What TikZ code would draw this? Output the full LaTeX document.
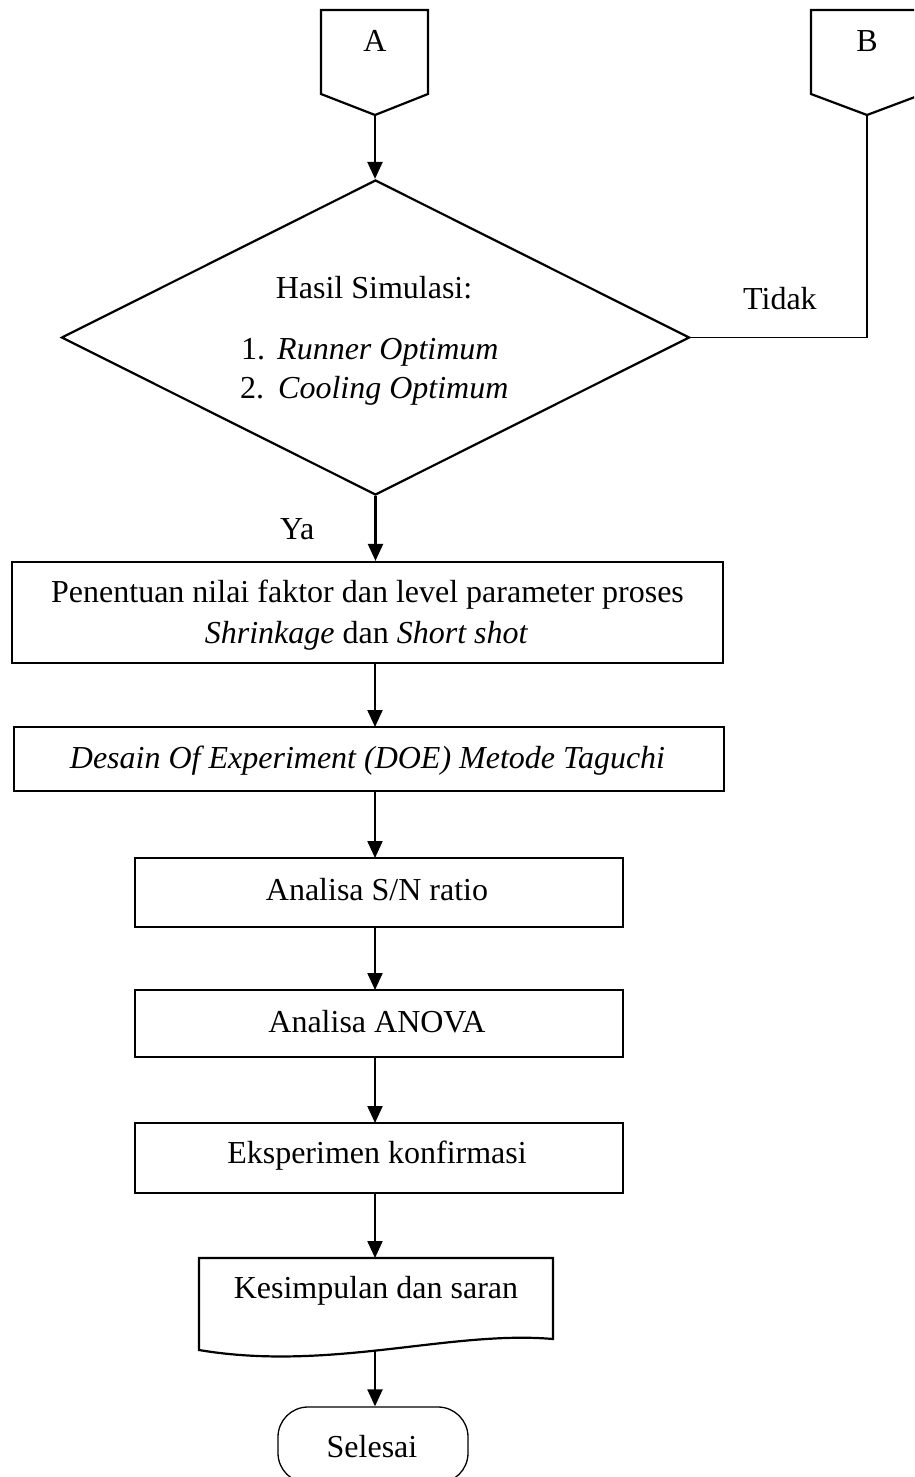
\documentclass[tikz,border=0pt]{standalone}
\usepackage{fontspec}
\setmainfont{Liberation Serif}
\usetikzlibrary{arrows.meta,shapes.geometric}
\newcommand\fsz{\fontsize{32}{40}\selectfont}
\tikzset{
  box/.style={draw, line width=2.2pt, inner sep=0pt},
  txt/.style={anchor=base, inner sep=0pt, font=\fsz},
  txtw/.style={anchor=base west, inner sep=0pt, font=\fsz},
  arr/.style={line width=2.2pt, -{Triangle[length=17pt,width=15pt]}},
  thinline/.style={line width=1.3pt},
}
\begin{document}
\begin{tikzpicture}[x=1pt,y=-1pt]
\useasboundingbox (0,0) rectangle (914,1477);
\clip (0,0) rectangle (914,1477);
\fill[white] (0,0) rectangle (914,1477);
% off-page connectors
\draw[line width=2.2pt] (321,10) -- (428,10) -- (428,94) -- (375,115) -- (321,94) -- cycle;
\coordinate (Atip) at (375,115);
\node[txt] (A) at (375,52) {A};
\draw[line width=2.2pt] (811,10) -- (923,10) -- (923,94) -- (867,115) -- (811,94) -- cycle;
\coordinate (Btip) at (867,115);
\node[txt] (B) at (867,52) {B};
% decision
\node[box, diamond, minimum width=628pt, minimum height=315pt] (dec) at (375.5,337.5) {};
\node[txt] (hs) at (374,298) {Hasil Simulasi:};
\node[txtw] (n1) at (241,359) {1.};
\node[txtw] (r1) at (277,359) {\itshape Runner Optimum};
\node[txtw] (n2) at (240,398) {2.};
\node[txtw] (r2) at (278,398) {\itshape Cooling Optimum};
\node[txtw] (tidak) at (743,309) {Tidak};
\node[txtw] (ya) at (280,539) {Ya};
% process boxes
\node[box, minimum width=711pt, minimum height=101pt] (p1) at (367.5,612.5) {};
\node[txt] (p1a) at (367.5,602) {Penentuan nilai faktor dan level parameter proses};
\node[txt] (p1b) at (366.5,643) {\textit{Shrinkage} dan \textit{Short shot}};
\node[box, minimum width=710pt, minimum height=64pt] (p2) at (369,759) {};
\node[txt] (p2a) at (367.5,768) {\itshape Desain Of Experiment (DOE) Metode Taguchi};
\node[box, minimum width=488pt, minimum height=69pt] (p3) at (379,892.5) {};
\node[txt] (p3a) at (377,900) {Analisa S/N ratio};
\node[box, minimum width=488pt, minimum height=67pt] (p4) at (379,1023.5) {};
\node[txt] (p4a) at (377,1032) {Analisa ANOVA};
\node[box, minimum width=488pt, minimum height=70pt] (p5) at (379,1158) {};
\node[txt] (p5a) at (377,1163) {Eksperimen konfirmasi};
% document
\draw[line width=2.2pt] (199,1258) -- (553,1258) -- (553,1339)
  .. controls (450,1330) and (330,1372) .. (199,1350) -- cycle;
\coordinate (docb) at (375,1350.5);
\coordinate (doct) at (375,1258);
\node[txt] (kes) at (376,1298) {Kesimpulan dan saran};
% terminator
\node[draw, thinline, rounded corners=30pt, minimum width=190pt, minimum height=76pt, inner sep=0pt] (end) at (373,1445) {};
\node[txt] (sel) at (372,1457) {Selesai};
% connectors
\draw[arr] (Atip) -- (Atip |- dec.north);
\draw[thinline] (Btip) |- (dec.east);
\draw[arr] (dec.south) -- (dec.south |- p1.north);
\draw[arr] (375,663) -- (375,727);
\draw[arr] (375,791) -- (375,858);
\draw[arr] (375,927) -- (375,990);
\draw[arr] (375,1057) -- (375,1123);
\draw[arr] (375,1193) -- (doct);
\draw[arr] (docb) -- (docb |- end.north);
\end{tikzpicture}
\end{document}
